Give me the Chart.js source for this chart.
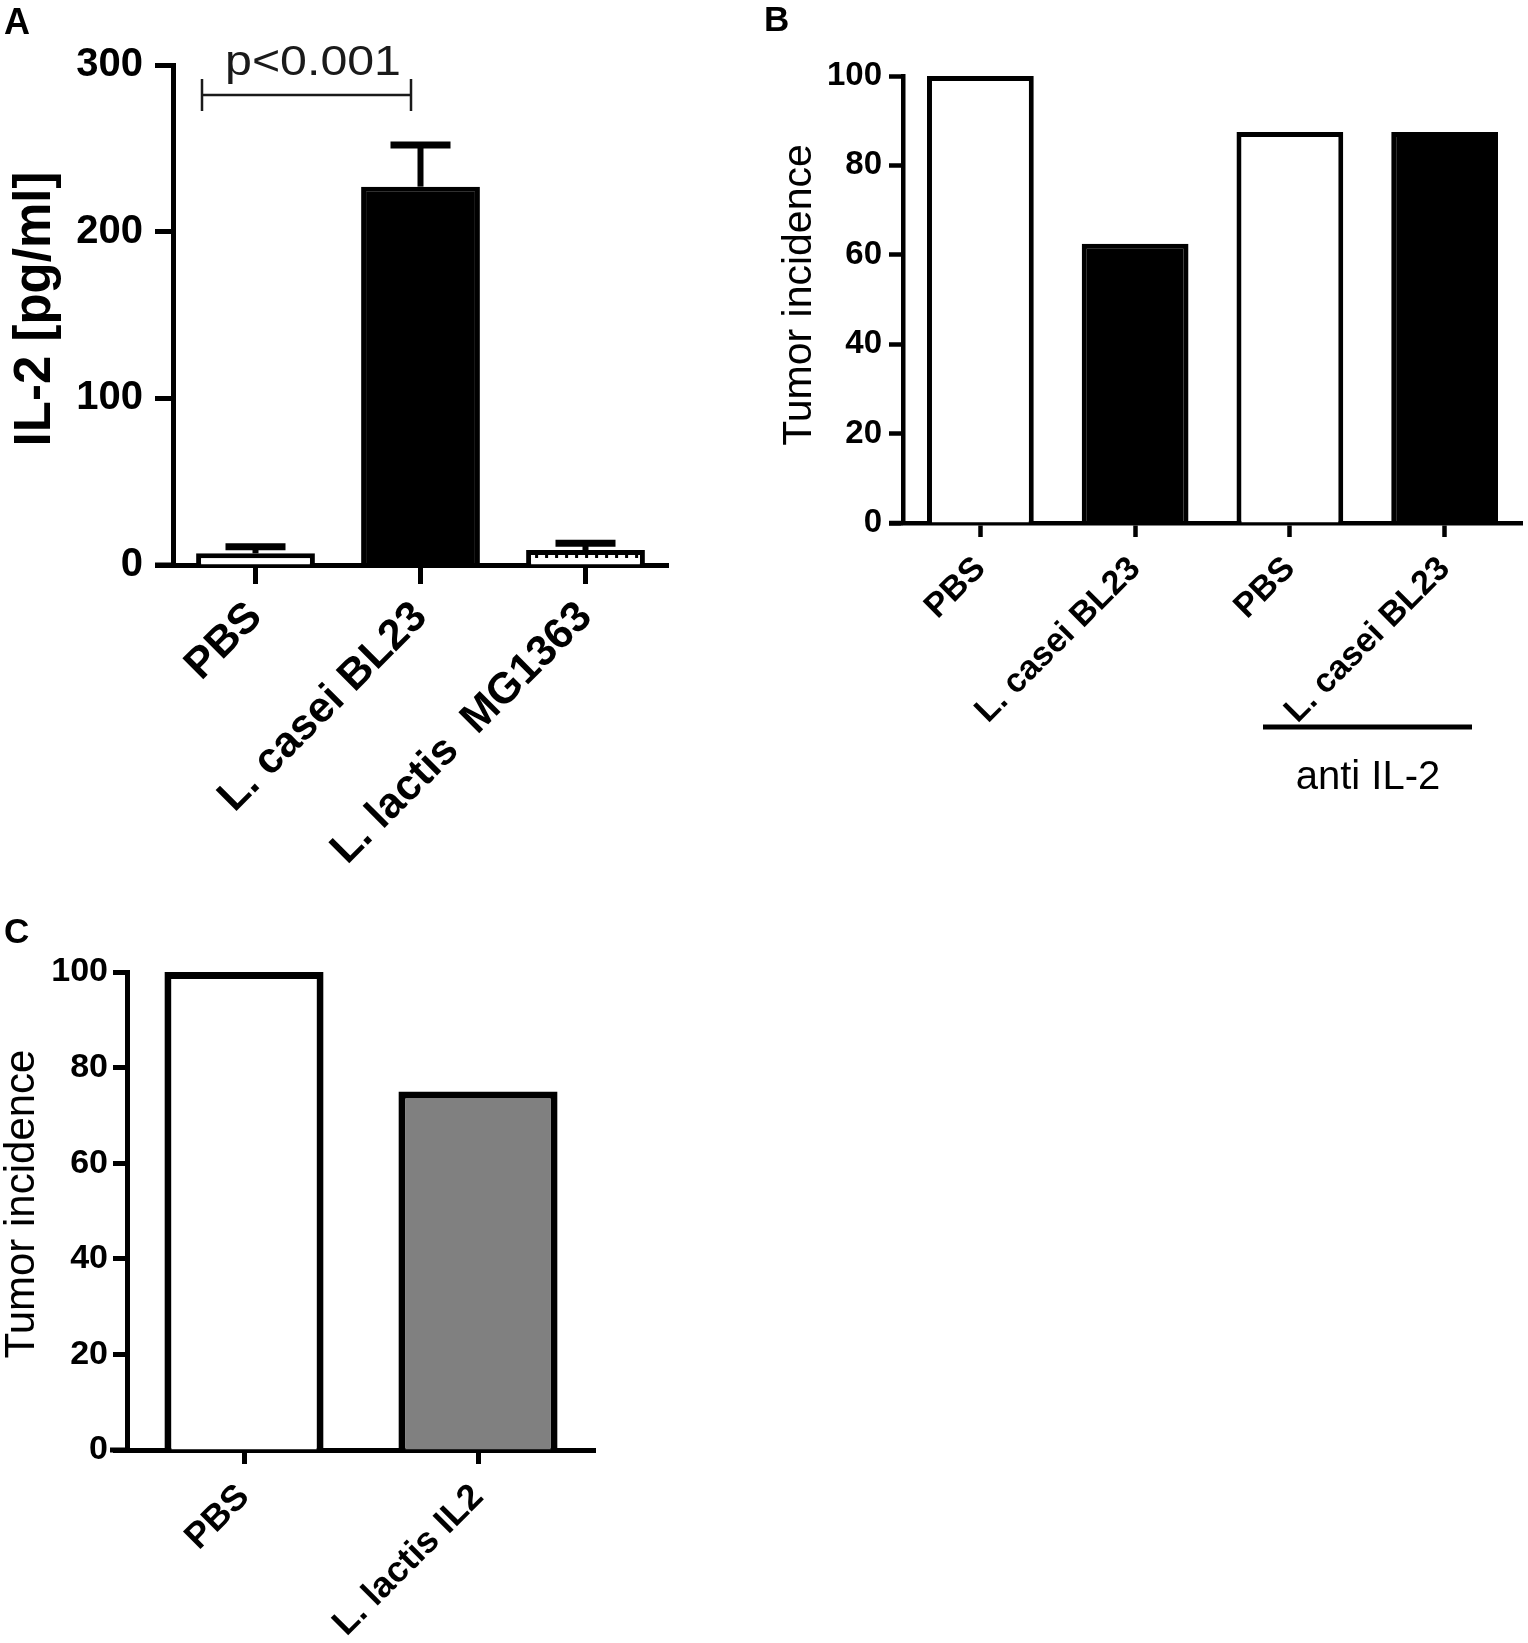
<!DOCTYPE html>
<html><head><meta charset="utf-8">
<script src="https://cdn.jsdelivr.net/npm/chart.js@4.4.1/dist/chart.umd.min.js"></script>
<style>
html,body{margin:0;padding:0;background:#fff;}
#wrap{position:relative;width:1528px;height:1643px;background:#fff;overflow:hidden;}
canvas{position:absolute;}
</style></head><body>
<div id="wrap">
<canvas id="cA" width="700" height="880" style="left:0px;top:0px"></canvas>
<canvas id="cB" width="788" height="820" style="left:740px;top:0px"></canvas>
<canvas id="cC" width="620" height="763" style="left:0px;top:880px"></canvas>
</div>
<script>
// ---- data ----
const aCategories = ['PBS', 'L. casei BL23', 'L. lactis  MG1363'];
const aValues = [7, 227, 9];
const aErrors = [4, 25, 4];
const aTicks = [0, 100, 200, 300];

const bCategories = ['PBS', 'L. casei BL23', 'PBS', 'L. casei BL23'];
const bValues = [100, 62.5, 87.5, 87.5];

const cCategories = ['PBS', 'L. lactis IL2'];
const cValues = [100, 75];

const tumorTicks = [0, 20, 40, 60, 80, 100];

const FAM = "'Liberation Sans', Arial, Helvetica, sans-serif";
Chart.defaults.font.family = FAM;
Chart.defaults.color = '#000';

function makeChart(id, o) {
  const ticksList = o.tickValues;
  return new Chart(document.getElementById(id), {
    type: 'bar',
    data: {
      labels: o.labels,
      datasets: [{
        data: o.values,
        backgroundColor: o.bg,
        borderColor: '#000',
        borderWidth: o.barBorder,
        barPercentage: o.barPct,
        categoryPercentage: 1
      }]
    },
    options: {
      responsive: false,
      animation: false,
      devicePixelRatio: 1,
      layout: { padding: o.padding },
      plugins: { legend: { display: false }, tooltip: { enabled: false } },
      scales: {
        x: {
          offset: true,
          grid: { offset: false, drawOnChartArea: false, drawTicks: true, tickLength: o.xTickLen, tickWidth: o.axisW, tickColor: '#000' },
          border: { display: true, width: o.axisW, color: '#000' },
          ticks: { autoSkip: false, maxRotation: 45, minRotation: 45, padding: o.xPad, color: '#000', font: { size: o.xFont, weight: 'bold', family: FAM } },
          afterFit: s => { s.height = o.xHeight; }
        },
        y: {
          min: ticksList[0], max: ticksList[ticksList.length - 1],
          afterBuildTicks: s => { s.ticks = ticksList.map(v => ({ value: v })); },
          grid: { drawOnChartArea: false, drawTicks: true, tickLength: o.yTickLen, tickWidth: o.axisW, tickColor: '#000' },
          border: { display: true, width: o.axisW, color: '#000' },
          ticks: { padding: o.yPad, color: '#000', font: { size: o.yFont, weight: 'bold', family: FAM } },
          afterFit: s => { s.width = o.yWidth; }
        }
      }
    },
    plugins: [{ id: 'extras', afterDraw: c => o.extras(c) }]
  });
}

function vtitle(ctx, text, x, y, font) {
  ctx.save();
  ctx.translate(x, y);
  ctx.rotate(-Math.PI / 2);
  ctx.font = font;
  ctx.fillStyle = '#000';
  ctx.textAlign = 'center';
  ctx.textBaseline = 'middle';
  ctx.fillText(text, 0, 0);
  ctx.restore();
}
function letter(ctx, t, x, y, size) {
  ctx.save();
  ctx.font = 'bold ' + size + 'px ' + FAM;
  ctx.fillStyle = '#000';
  ctx.textBaseline = 'alphabetic';
  ctx.fillText(t, x, y);
  ctx.restore();
}
function axisExt(c, x0, w) {
  const ctx = c.ctx, a = c.chartArea;
  ctx.save();
  ctx.strokeStyle = '#000';
  ctx.lineWidth = w;
  ctx.beginPath();
  ctx.moveTo(x0, a.bottom);
  ctx.lineTo(a.left, a.bottom);
  ctx.stroke();
  ctx.restore();
}

// Panel A
makeChart('cA', {
  labels: aCategories, values: aValues, tickValues: aTicks,
  bg: ['#ffffff', '#000000', '#ffffff'], barBorder: 5, barPct: 0.72,
  padding: { left: 0, top: 65, right: 32, bottom: 0 },
  yWidth: 173, xHeight: 315, axisW: 5, xTickLen: 19, yTickLen: 18,
  xPad: 8, yPad: 12, xFont: 43, yFont: 40,
  extras: c => {
    const ctx = c.ctx, ys = c.scales.y, meta = c.getDatasetMeta(0);
    axisExt(c, 155, 5);
    // lactis inner dashes
    const lb = meta.data[2];
    ctx.save();
    ctx.fillStyle = '#000';
    const half = lb.width / 2;
    for (let x = lb.x - half + 9; x < lb.x + half - 9; x += 10) ctx.fillRect(x, lb.y + 5, 3, 3);
    ctx.restore();
    // error bars
    ctx.save();
    ctx.strokeStyle = '#000';
    meta.data.forEach((bar, i) => {
      const top = ys.getPixelForValue(aValues[i] + aErrors[i]);
      ctx.lineWidth = 6;
      ctx.beginPath(); ctx.moveTo(bar.x, bar.y); ctx.lineTo(bar.x, top); ctx.stroke();
      ctx.lineWidth = 7;
      ctx.beginPath(); ctx.moveTo(bar.x - 30, top); ctx.lineTo(bar.x + 30, top); ctx.stroke();
    });
    ctx.restore();
    // significance bracket
    ctx.save();
    ctx.strokeStyle = '#1a1a1a';
    ctx.lineWidth = 2.5;
    ctx.beginPath();
    ctx.moveTo(202, 95); ctx.lineTo(411, 95);
    ctx.moveTo(202, 79); ctx.lineTo(202, 111);
    ctx.moveTo(411, 79); ctx.lineTo(411, 111);
    ctx.stroke();
    ctx.translate(313, 75);
    ctx.scale(1.15, 1);
    ctx.font = '42px ' + FAM;
    ctx.fillStyle = '#1a1a1a';
    ctx.textAlign = 'center';
    ctx.textBaseline = 'alphabetic';
    ctx.fillText('p<0.001', 0, 0);
    ctx.restore();
    vtitle(ctx, 'IL-2 [pg/ml]', 36, 309, 'bold 51px ' + FAM);
    letter(ctx, 'A', 4, 34, 36);
  }
});

// Panel B
makeChart('cB', {
  labels: bCategories, values: bValues, tickValues: tumorTicks,
  bg: ['#ffffff', '#000000', '#ffffff', '#000000'], barBorder: 5, barPct: 0.69,
  padding: { left: 0, top: 76, right: 6, bottom: 0 },
  yWidth: 163, xHeight: 297, axisW: 4.5, xTickLen: 14, yTickLen: 14,
  xPad: 12, yPad: 7, xFont: 34, yFont: 33,
  extras: c => {
    const ctx = c.ctx;
    axisExt(c, 149, 4.5);
    ctx.save();
    ctx.strokeStyle = '#000';
    ctx.lineWidth = 5;
    ctx.beginPath(); ctx.moveTo(523, 727); ctx.lineTo(732, 727); ctx.stroke();
    ctx.font = '40px ' + FAM;
    ctx.fillStyle = '#000';
    ctx.textAlign = 'center';
    ctx.fillText('anti IL-2', 628, 789);
    ctx.restore();
    vtitle(ctx, 'Tumor incidence', 60, 295, '41px ' + FAM);
    letter(ctx, 'B', 24, 31, 35);
  }
});

// Panel C
makeChart('cC', {
  labels: cCategories, values: cValues, tickValues: tumorTicks,
  bg: ['#ffffff', '#808080'], barBorder: 7, barPct: 0.68,
  padding: { left: 0, top: 92, right: 25, bottom: 0 },
  yWidth: 127, xHeight: 193, axisW: 5, xTickLen: 14, yTickLen: 14,
  xPad: 12, yPad: 5, xFont: 36, yFont: 34,
  extras: c => {
    const ctx = c.ctx;
    axisExt(c, 110, 5);
    vtitle(ctx, 'Tumor incidence', 22, 324, '42px ' + FAM);
    letter(ctx, 'C', 4, 63, 35);
  }
});
</script>
</body></html>
